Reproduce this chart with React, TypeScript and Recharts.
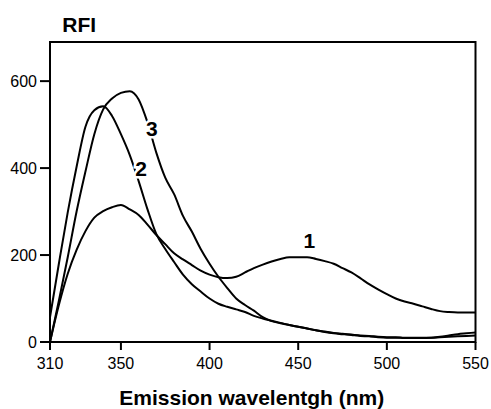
import React from 'react';
import { LineChart, Line, XAxis, YAxis, ReferenceArea, ReferenceDot } from 'recharts';

const FONT = '"Liberation Sans", Arial, Helvetica, sans-serif';

// emission wavelength (nm)
const wavelengths = [
    310, 315, 320, 325, 330, 335, 340, 345, 350, 355, 360, 365, 370, 375, 380, 385, 390,
    395, 400, 405, 410, 415, 420, 425, 430, 435, 440, 445, 450, 455, 460, 465, 470, 475,
    480, 485, 490, 495, 500, 505, 510, 515, 520, 525, 530, 535, 540, 545, 550,
];

// relative fluorescence intensity
const curve1 = [
    0, 85, 157, 212, 255, 286, 301, 310, 315, 305, 292, 270, 246, 225, 204, 190, 177,
    164, 155, 149, 147, 150, 160, 170, 178, 185, 191, 195, 195, 195, 191, 186, 180, 170,
    160, 147, 133, 121, 110, 100, 93, 88, 82, 76, 71, 69, 68, 68, 68,
];
const curve2 = [
    57, 180, 298, 403, 495, 533, 542, 520, 478, 430, 370, 305, 248, 214, 184, 155, 133,
    116, 100, 88, 81, 75, 69, 60, 54, 49, 44, 39, 35, 31, 27, 24, 21, 19,
    17, 15, 14, 12, 11, 11, 10, 10, 10, 10, 11, 12, 13, 14, 15,
];
const curve3 = [
    0, 95, 195, 300, 392, 478, 535, 560, 573, 577, 558, 505, 435, 378, 340, 290, 254,
    214, 180, 150, 124, 100, 85, 72, 57, 48, 43, 39, 35, 31, 27, 23, 20, 18,
    16, 14, 13, 11, 10, 10, 9, 9, 9, 10, 12, 15, 18, 20, 22,
];

const xTicks = [310, 350, 400, 450, 500, 550];
const yTicks = [0, 200, 400, 600];

// curve numbers, placed in data units
const tagNames = ['1', '2', '3'];
const tagX = [456.3, 361.4, 367.5];
const tagY = [232.6, 398.4, 490.6];

const data = wavelengths.map((w, i) => ({ w, c1: curve1[i], c2: curve2[i], c3: curve3[i] }));

const tickStyle = { fill: '#000', fontSize: 16, fontFamily: FONT };

const XTitle = (props: any) => {
    const { viewBox } = props;
    return (
        <text x={viewBox.x + viewBox.width / 2 - 11} y={404.5} textAnchor="middle"
            fontFamily={FONT} fontWeight="bold" fontSize={21} fill="#000">
            Emission wavelentgh (nm)
        </text>
    );
};

const YTitle = (props: any) => {
    const { viewBox } = props;
    return (
        <text x={viewBox.x + viewBox.width + 12.3} y={viewBox.y - 10.3} textAnchor="start"
            fontFamily={FONT} fontWeight="bold" fontSize={21} fill="#000">
            RFI
        </text>
    );
};

const tagShape = (name: string) => (p: any) => (
    <text x={p.cx} y={p.cy + 7.5} textAnchor="middle" fontFamily={FONT} fontWeight="bold"
        fontSize={21} fill="#000" stroke="#fff" strokeWidth={5} paintOrder="stroke">
        {name}
    </text>
);

export default function App() {
    return (
        <div style={{ position: 'absolute', left: 0, top: 0, background: '#fff' }}>
            <LineChart width={491} height={409} data={data}
                margin={{ top: 42, right: 15.5, bottom: 37, left: 0 }}>
                <XAxis dataKey="w" type="number" domain={[310, 550]} ticks={xTicks}
                    height={30} tickSize={8} tickMargin={8} tick={tickStyle}
                    axisLine={{ stroke: '#000', strokeWidth: 2 }}
                    tickLine={{ stroke: '#000', strokeWidth: 2 }}
                    label={<XTitle />} />
                <YAxis type="number" domain={[0, 690]} ticks={yTicks} width={50}
                    tickSize={10} tickMargin={3} tick={tickStyle}
                    axisLine={{ stroke: '#000', strokeWidth: 2 }}
                    tickLine={{ stroke: '#000', strokeWidth: 2 }}
                    label={<YTitle />} />
                <ReferenceArea x1={310} x2={550} y1={0} y2={690} fill="none"
                    stroke="#000" strokeWidth={2} />
                <Line type="monotone" dataKey="c1" stroke="#000" strokeWidth={2} dot={false} isAnimationActive={false} />
                <Line type="monotone" dataKey="c2" stroke="#000" strokeWidth={2} dot={false} isAnimationActive={false} />
                <Line type="monotone" dataKey="c3" stroke="#000" strokeWidth={2} dot={false} isAnimationActive={false} />
                {tagNames.map((name, i) => (
                    <ReferenceDot key={name} x={tagX[i]} y={tagY[i]} r={0} shape={tagShape(name)} />
                ))}
            </LineChart>
        </div>
    );
}
